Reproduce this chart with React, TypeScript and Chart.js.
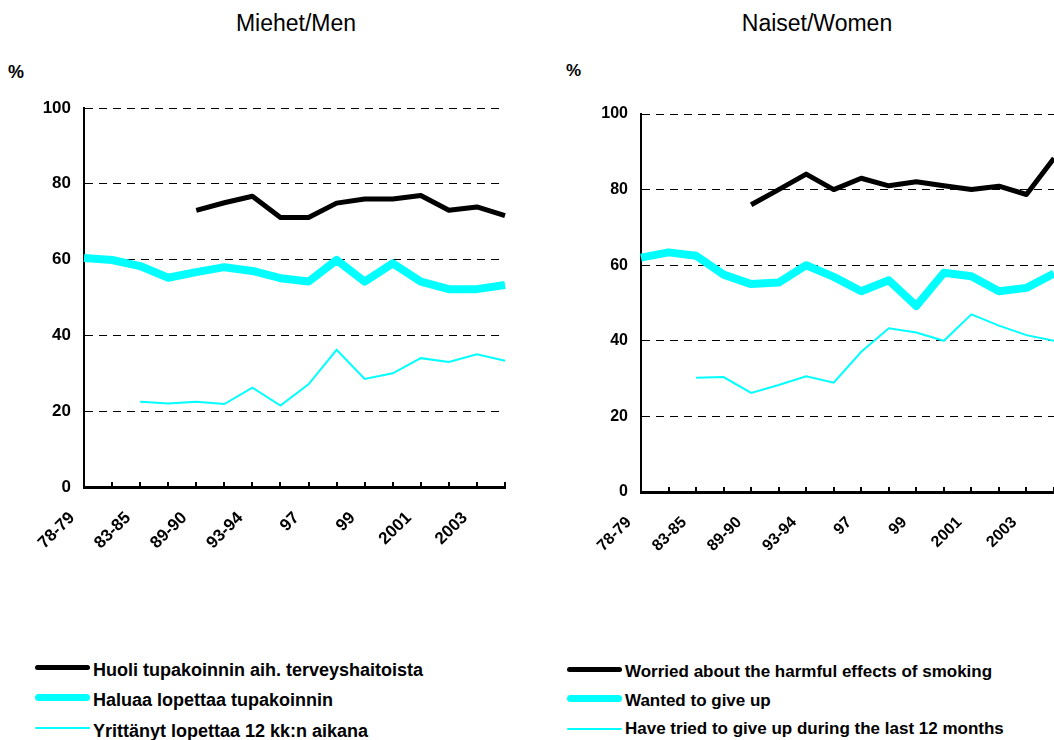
import React, { useEffect, useRef } from "react";
import { Chart, registerables } from "chart.js";
Chart.register(...registerables);

const categories = ["78-79", "", "83-85", "", "89-90", "", "93-94", "", "97", "", "99", "", "2001", "", "2003", ""];

const menWorried = [null, null, null, null, 73, 75, 76.7, 71.1, 71.1, 74.9, 76, 76, 76.9, 73, 73.9, 71.6];
const menWanted = [60.4, 59.9, 58.3, 55.2, 56.7, 58, 57, 55.1, 54.2, 59.9, 54.2, 59, 54.2, 52.2, 52.2, 53.3];
const menTried = [null, null, 22.5, 22, 22.5, 21.9, 26.2, 21.5, 27.1, 36.2, 28.5, 30, 34, 33, 35, 33.3];

const womenWorried = [null, null, null, null, 76, 80, 84.1, 80, 83, 81, 82.1, 81, 80, 80.9, 78.7, 88.3];
const womenWanted = [62, 63.4, 62.5, 57.5, 55, 55.4, 60, 56.9, 53.1, 56, 49.2, 58, 57.1, 53.1, 54, 57.8];
const womenTried = [null, null, 30.2, 30.4, 26.2, 28.3, 30.6, 28.9, 37.1, 43.3, 42.2, 40, 47, 44, 41.5, 40];

const menLegend = [
  "Huoli tupakoinnin aih. terveyshaitoista",
  "Haluaa lopettaa tupakoinnin",
  "Yrittänyt lopettaa 12 kk:n aikana",
];
const womenLegend = [
  "Worried about the harmful effects of smoking",
  "Wanted to give up",
  "Have tried to give up during the last 12 months",
];

const FONT = "'Liberation Sans', Arial, Helvetica, sans-serif";
const BLACK = "#000000";
const CYAN = "#00FFFF";

type PanelProps = {
  left: number;
  worried: (number | null)[];
  wanted: (number | null)[];
  tried: (number | null)[];
  padding: { left: number; right: number; top: number; bottom: number };
  yWidth: number;
  yFont: number;
  xFont: number;
};

const tickMarks = {
  id: "tickMarks",
  afterDraw(chart: any) {
    const xs = chart.scales.x;
    const ctx = chart.ctx;
    const bottom = chart.chartArea.bottom;
    ctx.save();
    ctx.strokeStyle = BLACK;
    ctx.lineWidth = 2;
    for (let i = 0; i < categories.length; i++) {
      const x = Math.round(xs.getPixelForValue(i));
      ctx.beginPath();
      ctx.moveTo(x, bottom);
      ctx.lineTo(x, bottom - 5);
      ctx.stroke();
    }
    ctx.restore();
  },
};

function Panel(props: PanelProps) {
  const ref = useRef<HTMLCanvasElement | null>(null);
  useEffect(() => {
    if (!ref.current) return;
    const chart = new Chart(ref.current, {
      type: "line",
      data: {
        labels: categories,
        datasets: [
          {
            label: "worried",
            data: props.worried,
            borderColor: BLACK,
            borderWidth: 5,
            pointRadius: 0,
            tension: 0,
            borderJoinStyle: "round",
          },
          {
            label: "wanted",
            data: props.wanted,
            borderColor: CYAN,
            borderWidth: 8,
            pointRadius: 0,
            tension: 0,
            borderJoinStyle: "round",
          },
          {
            label: "tried",
            data: props.tried,
            borderColor: CYAN,
            borderWidth: 2,
            pointRadius: 0,
            tension: 0,
          },
        ],
      },
      options: {
        animation: false,
        responsive: false,
        maintainAspectRatio: false,
        layout: { padding: props.padding },
        plugins: { legend: { display: false }, title: { display: false }, tooltip: { enabled: false } },
        scales: {
          x: {
            type: "category",
            offset: false,
            grid: { display: false },
            border: { display: true, color: BLACK, width: 3 },
            ticks: {
              autoSkip: false,
              maxRotation: 45,
              minRotation: 45,
              color: BLACK,
              padding: 13,
              labelOffset: -12,
              font: { family: FONT, size: props.xFont, weight: "bold" },
            },
            afterFit: (scale: any) => {
              scale.height = 100;
              scale.paddingLeft = 0;
              scale.paddingRight = 0;
            },
          },
          y: {
            min: 0,
            max: 100,
            ticks: {
              stepSize: 20,
              color: BLACK,
              padding: 13,
              font: { family: FONT, size: props.yFont, weight: "bold" },
            },
            grid: { display: true, color: BLACK, lineWidth: 1, drawTicks: false },
            border: { display: true, color: BLACK, width: 2, dash: [8, 6] },
            afterFit: (scale: any) => {
              scale.width = props.yWidth;
              scale.paddingTop = 0;
              scale.paddingBottom = 0;
            },
          },
        },
      },
      plugins: [tickMarks],
    } as any);
    return () => chart.destroy();
  }, []);
  return (
    <canvas
      ref={ref}
      width={520}
      height={600}
      style={{ position: "absolute", left: props.left, top: 0, width: 520, height: 600 }}
    />
  );
}

function LegendRow(props: { x: number; lineY: number; textTop: number; color: string; lw: number; text: string; size: number }) {
  return (
    <>
      <div
        style={{
          position: "absolute",
          left: props.x,
          top: props.lineY - props.lw / 2,
          width: 55,
          height: props.lw,
          background: props.color,
          borderRadius: props.lw / 2,
        }}
      />
      <div
        style={{
          position: "absolute",
          left: props.x + 58,
          top: props.textTop,
          fontSize: props.size,
          lineHeight: "20px",
          fontWeight: "bold",
          whiteSpace: "nowrap",
          color: BLACK,
        }}
      >
        {props.text}
      </div>
    </>
  );
}

export default function App() {
  const styles = [
    { color: BLACK, lw: 5 },
    { color: CYAN, lw: 7 },
    { color: CYAN, lw: 2 },
  ];
  const leftLines = [667.7, 697.3, 728.3];
  const leftTexts = [659.5, 689.5, 720.5];
  const rightLines = [669.3, 698.3, 729.3];
  const rightTexts = [662, 691, 719];
  return (
    <div
      style={{
        position: "fixed",
        left: 0,
        top: 0,
        width: 1054,
        height: 740,
        overflow: "hidden",
        background: "#fff",
        fontFamily: FONT,
        color: BLACK,
      }}
    >
      <div style={{ position: "absolute", left: 146, top: 10, width: 300, textAlign: "center", fontSize: 23, lineHeight: "26px" }}>
        Miehet/Men
      </div>
      <div style={{ position: "absolute", left: 667, top: 10, width: 300, textAlign: "center", fontSize: 23, lineHeight: "26px" }}>
        Naiset/Women
      </div>
      <div style={{ position: "absolute", left: 8, top: 61, fontSize: 18, lineHeight: "22px", fontWeight: "bold" }}>%</div>
      <div style={{ position: "absolute", left: 566, top: 61, fontSize: 17, lineHeight: "20px", fontWeight: "bold" }}>%</div>
      <Panel
        left={0}
        worried={menWorried}
        wanted={menWanted}
        tried={menTried}
        padding={{ left: 0, right: 15, top: 108, bottom: 13 }}
        yWidth={84}
        yFont={17}
        xFont={17}
      />
      <Panel
        left={556}
        worried={womenWorried}
        wanted={womenWanted}
        tried={womenTried}
        padding={{ left: 0, right: 22, top: 114, bottom: 8 }}
        yWidth={85}
        yFont={16}
        xFont={16}
      />
      {menLegend.map((t, i) => (
        <LegendRow key={"m" + i} x={35} lineY={leftLines[i]} textTop={leftTexts[i]} color={styles[i].color} lw={styles[i].lw} text={t} size={18} />
      ))}
      {womenLegend.map((t, i) => (
        <LegendRow key={"w" + i} x={567} lineY={rightLines[i]} textTop={rightTexts[i]} color={styles[i].color} lw={styles[i].lw} text={t} size={17} />
      ))}
    </div>
  );
}
